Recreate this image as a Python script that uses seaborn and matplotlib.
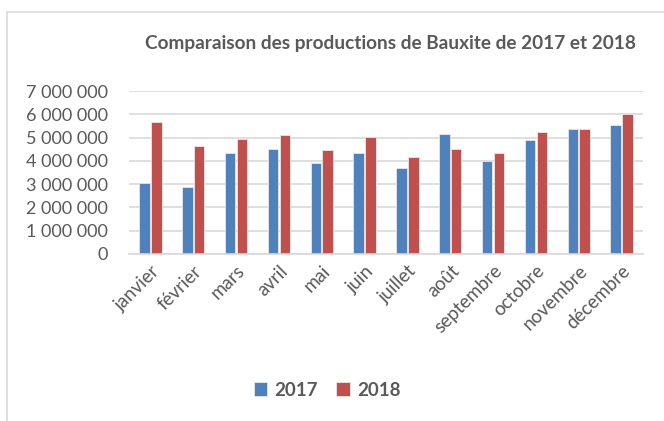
import matplotlib
matplotlib.use("Agg")
import matplotlib.pyplot as plt
import matplotlib.ticker as mticker
from matplotlib.patches import Rectangle
import seaborn as sns
import pandas as pd

months = ["janvier", "février", "mars", "avril", "mai", "juin", "juillet",
          "août", "septembre", "octobre", "novembre", "décembre"]
prod_2017 = [3040000, 2860000, 4320000, 4520000, 3910000, 4320000, 3690000,
             5150000, 3990000, 4890000, 5350000, 5530000]
prod_2018 = [5650000, 4620000, 4940000, 5110000, 4450000, 5010000, 4150000,
             4520000, 4350000, 5240000, 5380000, 6010000]
years = ["2017", "2018"]
colors = ["#4F81BD", "#C0504D"]
title = "Comparaison des productions de Bauxite de 2017 et 2018"

df = pd.DataFrame({
    "mois": months * 2,
    "valeur": prod_2017 + prod_2018,
    "annee": [years[0]] * len(months) + [years[1]] * len(months),
})

sns.set_theme(style="white")
plt.rcParams["font.family"] = ["Lato", "DejaVu Sans"]
text_color = "#595959"

fig = plt.figure(figsize=(6.64, 4.21), dpi=100)
ax = fig.add_axes([129 / 664, 1 - 254 / 421, (643 - 129) / 664, (254 - 91) / 421])

sns.barplot(data=df, x="mois", y="valeur", hue="annee", order=months,
            hue_order=years, palette=colors, width=0.55, gap=0.1,
            saturation=1, edgecolor="#E8E8E8", linewidth=0.6, ax=ax, legend=True)

ax.set_ylim(0, 7000000)
ax.yaxis.set_major_locator(mticker.MultipleLocator(1000000))
ax.yaxis.set_major_formatter(mticker.FuncFormatter(
    lambda v, p: f"{int(v):,}".replace(",", " ")))
ax.grid(axis="y", color="#D9D9D9", linewidth=1.2)
ax.set_axisbelow(True)
for s in ["top", "right", "left"]:
    ax.spines[s].set_visible(False)
ax.spines["bottom"].set_color("#D9D9D9")
ax.spines["bottom"].set_linewidth(1.2)
ax.set_xlabel("")
ax.set_ylabel("")
ax.tick_params(axis="y", length=0, pad=15, labelsize=13, labelcolor=text_color)
ax.tick_params(axis="x", length=0, pad=6, labelsize=13.5, labelcolor=text_color)
for lab in ax.get_xticklabels():
    lab.set_rotation(45)
    lab.set_ha("right")
    lab.set_rotation_mode("anchor")

ax.set_xlim(-0.5, len(months) - 0.5)

handles, labels = ax.get_legend_handles_labels()
ax.get_legend().remove()
leg = fig.legend(handles, labels, loc="center", bbox_to_anchor=(327 / 664, 1 - 390 / 421),
                 ncol=2, frameon=False, fontsize=13.5, handlelength=0.7, handleheight=0.7,
                 handletextpad=0.4, columnspacing=1.0)
for t in leg.get_texts():
    t.set_fontweight("bold")
    t.set_color(text_color)

fig.text(390 / 664, 1 - 44 / 421, title, ha="center", va="center",
         fontsize=13.7, fontweight="bold", color=text_color)

fig.patches.append(Rectangle((7 / 664, -0.1), 1.2, (1 - 12 / 421) + 0.1,
                             transform=fig.transFigure, fill=False,
                             edgecolor="#D9D9D9", linewidth=1.2))

fig.savefig("out.png", dpi=100)
